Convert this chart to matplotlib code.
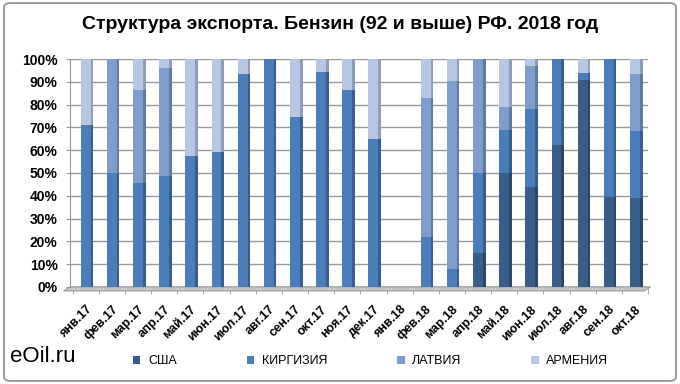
import matplotlib
matplotlib.use('Agg')
import matplotlib.pyplot as plt
from matplotlib.patches import FancyBboxPatch, Polygon
import numpy as np

plt.rcParams['font.family'] = ['Liberation Sans', 'DejaVu Sans']

months = ['янв.17', 'фев.17', 'мар.17', 'апр.17', 'май.17', 'июн.17', 'июл.17',
          'авг.17', 'сен.17', 'окт.17', 'ноя.17', 'дек.17', 'янв.18', 'фев.18',
          'мар.18', 'апр.18', 'май.18', 'июн.18', 'июл.18', 'авг.18', 'сен.18',
          'окт.18']
# доли, %
usa = [0, 0, 0, 0, 0, 0, 0, 0, 0, 0, 0, 0, 0, 0, 0, 15, 50, 44, 62.5, 91, 39.5, 39]
kyrgyz = [71, 50, 45.5, 48.5, 57.5, 59, 93.5, 100, 74.5, 94.5, 86.5, 65, 0, 22, 8,
          35, 19, 34, 37.5, 3, 60.5, 29.5]
latvia = [0, 50, 41, 47.5, 0, 0, 0, 0, 0, 0, 0, 0, 0, 61, 82.5, 50, 10, 19, 0, 0, 0, 25]
armenia = [29, 0, 13.5, 4, 42.5, 41, 6.5, 0, 25.5, 5.5, 13.5, 35, 0, 17, 9.5, 0,
           21, 3, 0, 6, 0, 6.5]
series_names = ['США', 'КИРГИЗИЯ', 'ЛАТВИЯ', 'АРМЕНИЯ']
colors = ['#385d8a', '#4a7ebb', '#7e9dcc', '#b7c6e3']
side_colors = ['#2a4668', '#365e8e', '#5f7aa3', '#8f9dbb']

fig = plt.figure(figsize=(6.8, 3.84), dpi=100)
fig.patches.append(FancyBboxPatch((0.006, 0.008), 0.988, 0.984,
                                  boxstyle='round,pad=0,rounding_size=0.01',
                                  transform=fig.transFigure, fill=False,
                                  edgecolor='#8c8c8c', linewidth=1.2))
ax = fig.add_axes([0.103, 0.253, 0.85, 0.593])

x = np.arange(len(months))
data = [np.array(s) / 100 for s in (usa, kyrgyz, latvia, armenia)]
bottom = np.zeros(len(months))
w = 0.38
for vals, name, c, sc in zip(data, series_names, colors, side_colors):
    ax.bar(x, vals, w, bottom=bottom, color=c, label=name, zorder=3)
    # боковая грань для эффекта объема
    ax.bar(x + w / 2 + 0.05, vals, 0.1, bottom=bottom, color=sc, zorder=3)
    bottom += vals

# пол
floor = Polygon([(-0.6, 0), (21.6, 0), (21.35, -0.018), (-0.85, -0.018)],
                closed=True, facecolor='#c4c4c4', edgecolor='#9a9a9a',
                linewidth=0.8, clip_on=False, zorder=2)
ax.add_patch(floor)

ax.set_xlim(-0.6, 21.5)
ax.set_ylim(0, 1)
ax.set_yticks(np.arange(0, 1.01, 0.1))
ax.set_yticklabels([f'{v}%' for v in range(0, 101, 10)],
                   fontsize=10, fontweight='bold')
ax.yaxis.grid(True, color='#9a9a9a', linewidth=1, zorder=0)
ax.set_xticks(x)
ax.set_xticklabels(months, rotation=45, ha='right', rotation_mode='anchor',
                   fontsize=9, fontweight='bold')
ax.set_xticks(np.arange(-0.5, len(months), 1), minor=True)
ax.tick_params(axis='x', which='major', length=0, pad=12)
ax.tick_params(axis='x', which='minor', length=5, color='#9a9a9a')
ax.tick_params(axis='y', length=3, color='#9a9a9a', pad=6)
for side in ['top', 'right', 'bottom']:
    ax.spines[side].set_visible(False)
ax.spines['left'].set_color('#9a9a9a')

fig.text(0.5, 0.935, 'Структура экспорта. Бензин (92 и выше) РФ. 2018 год',
         ha='center', va='center', fontsize=14, fontweight='bold')
fig.text(0.015, 0.072, 'eOil.ru', fontsize=16, va='center', ha='left')

handles, labels = ax.get_legend_handles_labels()
fig.legend(handles, labels, loc='center', bbox_to_anchor=(0.545, 0.06), ncol=4,
           frameon=False, fontsize=9, handlelength=0.6, handleheight=0.6,
           columnspacing=5.6, handletextpad=0.6)

fig.savefig('out.png', dpi=100)
